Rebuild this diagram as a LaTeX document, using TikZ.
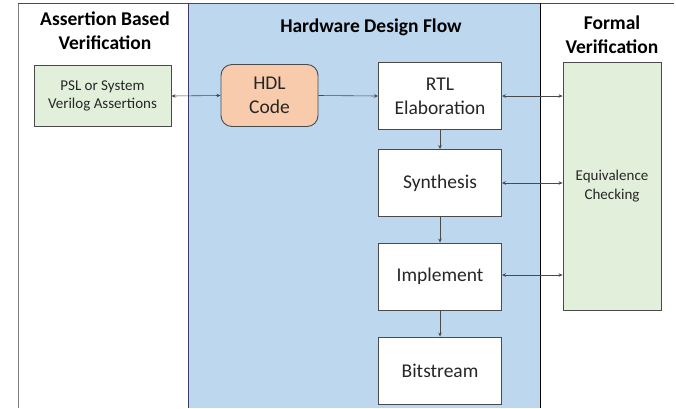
\documentclass[tikz,border=0pt]{standalone}
\usepackage{fontspec}
\setmainfont{Carlito}
\usetikzlibrary{arrows.meta}
\definecolor{flowblue}{HTML}{BDD7EE}
\definecolor{boxgreen}{HTML}{E2EFDA}
\definecolor{boxorange}{HTML}{F8CBAD}
\definecolor{edgegray}{HTML}{4A4A4A}
\definecolor{textgray}{HTML}{262626}
\tikzset{
  heading/.style={font=\fontsize{19.5}{24}\selectfont\bfseries, align=center, text=black},
  flowbox/.style={draw=edgegray, line width=0.9pt, fill=white, minimum width=123pt,
    minimum height=67pt, align=center, text=textgray, inner sep=0pt,
    font=\fontsize{19.5}{24}\selectfont},
  sidebox/.style={draw=edgegray, line width=0.9pt, fill=boxgreen, align=center,
    text=textgray, inner sep=0pt, font=\fontsize{15}{18.5}\selectfont},
  link/.style={draw=edgegray, line width=0.6pt, -{Stealth[length=4pt,width=3.5pt]}},
  dlink/.style={draw=edgegray, line width=0.6pt, {Stealth[length=4pt,width=3.5pt]}-{Stealth[length=4pt,width=3.5pt]}},
}
\begin{document}
\begin{tikzpicture}[x=1pt, y=-1pt]
\useasboundingbox (0,0) rectangle (676,408);

% lanes
\fill[flowblue] (188,3) rectangle (540,408);
\draw[gray, line width=1.2pt] (18.5,3) -- (18.5,408);
\draw[edgegray, line width=0.8pt] (18,3) -- (674,3);
\draw[edgegray!80!blue, line width=1pt] (188,3) -- (188,408);
\draw[black, line width=1pt] (540,3) -- (540,408);

% lane headings
\node[heading] (hAbv) at (105,30.5) {Assertion Based\\Verification};
\node[heading] (hHdf) at (371,27) {Hardware Design Flow};
\node[heading] (hFv) at (612,35) {Formal\\Verification};

% boxes
\node[sidebox, minimum width=137pt, minimum height=61pt] (psl) at (102.5,96)
  {PSL or System\\Verilog Assertions};
\node[flowbox, fill=boxorange, rounded corners=11pt, minimum width=97pt,
  minimum height=62pt] (hdl) at (269.5,95.5) {HDL\\Code};
\node[flowbox] (rtl) at (440,96) {RTL\\Elaboration};
\node[flowbox] (syn) at (440,183) {Synthesis};
\node[flowbox] (imp) at (440,276.5) {Implement};
\node[flowbox] (bit) at (440,370.5) {Bitstream};
\node[sidebox, minimum width=98pt, minimum height=248pt] (eq) at (612,186)
  {Equivalence\\Checking};

% connectors
\draw[dlink] (psl.east) -- (hdl.west);
\draw[link] (hdl.east) -- (rtl.west);
\draw[link] (rtl) -- (syn);
\draw[link] (syn) -- (imp);
\draw[link] (imp) -- (bit);
\draw[dlink] (rtl.east) -- (rtl.east -| eq.west);
\draw[dlink] (syn.east) -- (syn.east -| eq.west);
\draw[dlink] ([yshift=1.5pt]imp.east) -- ([yshift=1.5pt]imp.east -| eq.west);
\end{tikzpicture}
\end{document}
